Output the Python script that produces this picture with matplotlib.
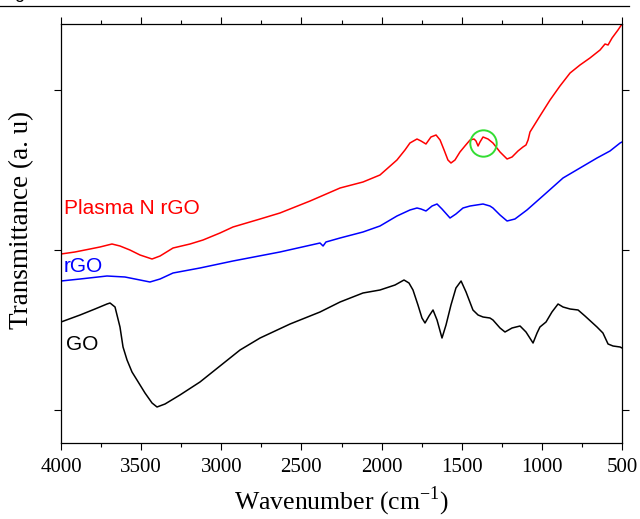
import matplotlib
matplotlib.use("Agg")
import matplotlib.pyplot as plt
from matplotlib.lines import Line2D
from matplotlib.ticker import MultipleLocator

# ---- data (wavenumber in cm^-1, transmittance in arbitrary offset units) ----
go_wn = [4000, 3881, 3788, 3713, 3694, 3663, 3632, 3613, 3588, 3557, 3526, 3476,
         3432, 3401, 3351, 3258, 3133, 3008, 2883, 2758, 2571, 2384, 2259, 2116,
         2010, 1916, 1860, 1829, 1804, 1773, 1748, 1729, 1704, 1679, 1654, 1623,
         1598, 1567, 1536, 1504, 1473, 1430, 1398, 1367, 1324, 1305, 1261, 1230,
         1186, 1136, 1099, 1055, 1030, 1012, 974, 937, 899, 868, 824, 774,
         731, 656, 619, 587, 556, 512, 500]
go_t = [121, 128, 134, 139, 140, 136, 116, 96, 83, 71, 63, 50,
        40, 36, 39, 48, 61, 77, 93, 105, 119, 131, 141, 150,
        153, 158, 163, 160, 153, 138, 125, 120, 127, 133, 123, 105,
        118, 138, 155, 162, 151, 133, 128, 126, 125, 123, 115, 111,
        115, 117, 111, 100, 110, 116, 121, 131, 139, 136, 134, 133,
        127, 116, 110, 99, 97, 96, 95]

rgo_wn = [4000, 3881, 3713, 3601, 3507, 3445, 3382, 3301, 3133, 2927, 2634, 2384,
          2365, 2347, 2259, 2116, 2010, 1904, 1823, 1779, 1754, 1723, 1685, 1654,
          1623, 1573, 1536, 1492, 1448, 1367, 1324, 1305, 1261, 1217, 1168, 1093,
          980, 868, 762, 656, 575, 512, 500]
rgo_t = [162, 164, 167, 166, 163, 161, 164, 170, 175, 182, 191, 200,
         197, 201, 205, 211, 217, 227, 233, 235, 234, 232, 237, 239,
         234, 225, 229, 235, 237, 239, 237, 235, 228, 222, 224, 233,
         249, 265, 275, 285, 292, 300, 301]

prgo_wn = [4000, 3913, 3819, 3757, 3682, 3632, 3570, 3507, 3432, 3382, 3301, 3195,
           3114, 3008, 2927, 2758, 2634, 2446, 2259, 2116, 2010, 1904, 1854, 1823,
           1779, 1754, 1723, 1692, 1660, 1635, 1610, 1586, 1567, 1542, 1511, 1480,
           1448, 1423, 1411, 1398, 1386, 1367, 1336, 1305, 1261, 1217, 1186, 1149,
           1118, 1099, 1086, 1074, 1012, 949, 887, 824, 762, 700, 637, 606,
           587, 562, 525, 500]
prgo_t = [189, 191, 194, 196, 199, 197, 193, 188, 184, 187, 195, 199,
          203, 210, 216, 224, 230, 242, 255, 261, 268, 283, 293, 300,
          304, 302, 299, 306, 308, 303, 293, 283, 280, 283, 291, 297,
          303, 304, 302, 297, 301, 306, 304, 300, 291, 284, 286, 292,
          296, 298, 303, 311, 327, 343, 357, 370, 378, 385, 393, 399,
          398, 405, 413, 419]

labels = ["Plasma N rGO", "rGO", "GO"]
colors = ["#ff0000", "#0000ff", "#000000"]
highlight_wn, highlight_t = [1367], [300]

# ---- figure ----
fig = plt.figure(figsize=(6.4, 5.19), dpi=100)
ax = fig.add_axes([61/640, 1-443/519, 561/640, 419/519])

ax.plot(prgo_wn, prgo_t, color=colors[0], lw=1.1)
ax.plot(rgo_wn, rgo_t, color=colors[1], lw=1.1)
ax.plot(go_wn, go_t, color=colors[2], lw=1.1)
ax.plot(highlight_wn, highlight_t, 'o', ms=19, mfc='none', mec='#33dd33', mew=1.4)

ax.set_xlim(4000, 500)
ax.set_ylim(0, 419)
ax.xaxis.set_major_locator(MultipleLocator(500))
ax.xaxis.set_minor_locator(MultipleLocator(250))
ax.set_yticks([33, 193, 353])
ax.set_yticklabels([])
ax.tick_params(axis='both', which='major', direction='out', length=5, width=0.8,
               top=True, right=True)
ax.tick_params(axis='x', which='major', pad=6)
ax.tick_params(axis='x', which='minor', direction='out', length=3, width=0.8, top=True)
for s in ax.spines.values():
    s.set_linewidth(0.9)

serif = ['Liberation Serif', 'DejaVu Serif']
for lab in ax.get_xticklabels():
    lab.set_fontfamily(serif)
    lab.set_fontsize(15)
ax.set_xlabel("Wavenumber (cm$^{\\mathregular{-1}}$)", fontsize=18.5, family=serif, labelpad=5)
ax.set_ylabel("Transmittance (a. u)", fontsize=19.5, family=serif)
ax.yaxis.set_label_coords(-0.048, 0.532)

sans = ['Liberation Sans', 'DejaVu Sans']
ax.text(3981, 235, labels[0], color=colors[0], fontsize=15, family=sans, va='center')
ax.text(3981, 176, labels[1], color=colors[1], fontsize=15, family=sans, va='center')
ax.text(3969, 99, labels[2], color=colors[2], fontsize=15, family=sans, va='center')

# caption remnant at top
fig.add_artist(Line2D([0, 629/640], [1-6/519, 1-6/519], color='black', lw=0.9,
                      transform=fig.transFigure))
fig.text(14/640, 1+2/519, "g", fontsize=13, family=sans, va='baseline')

fig.savefig("out.png", dpi=100)
